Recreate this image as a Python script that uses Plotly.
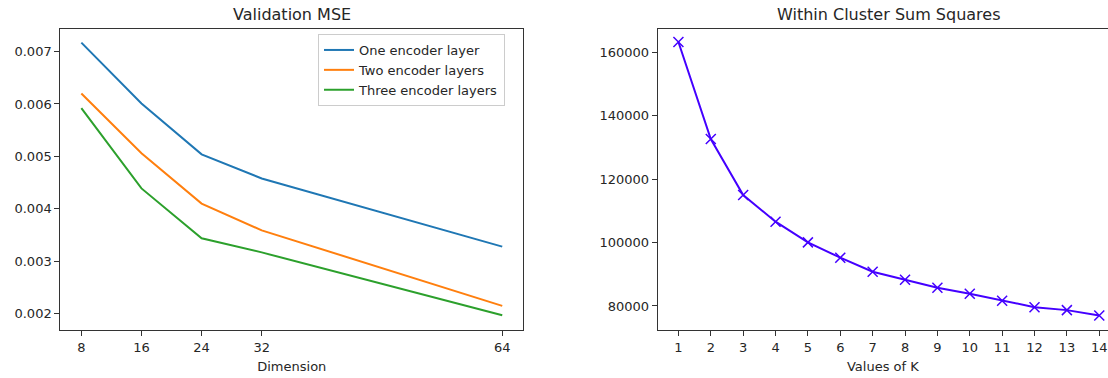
import plotly.graph_objects as go

# ---- data ----
dims = [8, 16, 24, 32, 64]
mse_one = [0.00717, 0.00601, 0.00504, 0.00458, 0.00328]
mse_two = [0.00620, 0.00506, 0.00410, 0.00359, 0.00215]
mse_three = [0.00592, 0.00439, 0.00344, 0.00317, 0.00197]
series_names = ["One encoder layer", "Two encoder layers", "Three encoder layers"]

k_values = list(range(1, 15))
wcss = [163260, 132660, 115000, 106580, 100060, 95230, 90810, 88290, 85770,
        83880, 81680, 79620, 78700, 77000]

left_yticks = [0.002, 0.003, 0.004, 0.005, 0.006, 0.007]
right_yticks = [80000, 100000, 120000, 140000, 160000]

W, H = 1108, 378
TXT = "#262626"
FONT = "DejaVu Sans"

fig = go.Figure()
colors = ["#1f77b4", "#ff7f0e", "#2ca02c"]
for name, vals, c in zip(series_names, [mse_one, mse_two, mse_three], colors):
    fig.add_trace(go.Scatter(x=dims, y=vals, mode="lines", name=name,
                             line=dict(color=c, width=2), xaxis="x", yaxis="y"))

fig.add_trace(go.Scatter(x=k_values, y=wcss, mode="lines+markers", showlegend=False,
                         line=dict(color="#4400ff", width=2),
                         marker=dict(symbol="x-thin", size=10,
                                     line=dict(color="#4400ff", width=1.5)),
                         xaxis="x2", yaxis="y2"))

axis_common = dict(showgrid=False, zeroline=False, showline=True, linecolor="#333",
                   linewidth=1, ticks="outside", ticklen=5, tickwidth=1, tickcolor="#333",
                   tickfont=dict(family=FONT, size=13, color=TXT))

fig.update_layout(
    width=W, height=H,
    margin=dict(l=0, r=0, t=29, b=48),
    plot_bgcolor="white", paper_bgcolor="white",
    font=dict(family=FONT, color=TXT),
    xaxis=dict(domain=[60.3 / W, 523.3 / W], range=[5.2, 66.8], tickvals=dims,
               mirror=True, anchor="y",
               title=dict(text="Dimension", font=dict(family=FONT, size=13, color=TXT), standoff=8),
               **axis_common),
    yaxis=dict(domain=[0, 1], range=[0.00169, 0.00743], tickvals=left_yticks,
               tickformat=".3f", mirror=True, anchor="x", **axis_common),
    xaxis2=dict(domain=[657.7 / W, 1.0], range=[0.36, 14.27], tickvals=k_values,
                mirror=True, anchor="y2",
                title=dict(text="Values of K", font=dict(family=FONT, size=13, color=TXT), standoff=8),
                **axis_common),
    yaxis2=dict(domain=[0, 1], range=[72430, 167350], tickvals=right_yticks,
                tickformat="d", mirror=False, anchor="x2", **axis_common),
    legend=dict(x=505 / W, xanchor="right", y=(330 - 34) / 301, yanchor="top",
                bgcolor="white", bordercolor="#cccccc", borderwidth=1,
                font=dict(family=FONT, size=13, color=TXT), tracegroupgap=0),
)
fig.add_annotation(text="Validation MSE", x=291.8 / W, xref="paper", xanchor="center",
                   y=1, yref="paper", yanchor="bottom", yshift=3, showarrow=False,
                   font=dict(family=FONT, size=16, color=TXT))
fig.add_annotation(text="Within Cluster Sum Squares", x=889 / W, xref="paper", xanchor="center",
                   y=1, yref="paper", yanchor="bottom", yshift=3, showarrow=False,
                   font=dict(family=FONT, size=16, color=TXT))

fig.write_html("out.html")
